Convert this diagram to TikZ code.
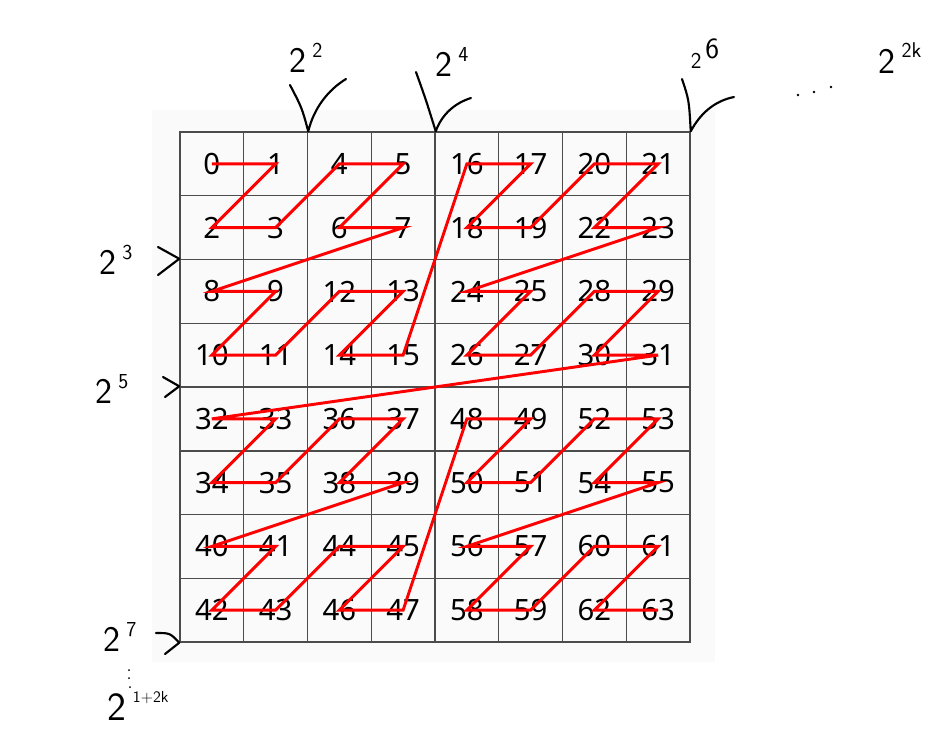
\documentclass[tikz,border=0pt]{standalone}
\usepackage{fontspec}
\setmainfont{Noto Sans}
\usetikzlibrary{positioning}

% base with a raised, smaller exponent (hand-written marks)
\newcommand{\hpow}[3][16]{#2\,\raisebox{1.0ex}{\fontsize{#1}{#1}\selectfont #3}}

\begin{document}
\begin{tikzpicture}[x=0.75pt, y=-0.75pt,
    cell/.style={draw=black!70, line width=1.1pt, minimum size=47.8pt,
      inner sep=0pt, font=\fontsize{22}{22}\selectfont},
    zline/.style={red, line width=2.2pt, line join=miter},
    hand/.style={line width=1.6pt, line cap=round, line join=round},
    handtxt/.style={font=\sffamily\fontsize{27}{27}\selectfont, inner sep=0pt}]
    \useasboundingbox (0,0) rectangle (943,751);
    % 1. Nền xám nhạt
    \fill[black!2] (152,110) rectangle (715,662);

    % 2. Các ô theo thứ tự Morton
    \foreach \n in {0,...,63}{
        \pgfmathtruncatemacro\col{mod(\n,2)+2*mod(int(\n/4),2)+4*mod(int(\n/16),2)}
        \pgfmathtruncatemacro\row{mod(int(\n/2),2)+2*mod(int(\n/8),2)+4*mod(int(\n/32),2)}
        \node[cell] (n\n) at ({211.875+63.75*\col},{163.875+63.75*\row}) {\n};
    }

    % 3. Đường chữ Z
    \draw[zline] (n0.center) \foreach \n in {1,...,63}{ -- (n\n.center)};

    % 4. Dấu viết tay phía trên
    \coordinate (t1) at (n1.north east);
    \coordinate (t2) at (n5.north east);
    \coordinate (t3) at (n21.north east);
    \draw[hand] (290,85) .. controls (302,108) .. (t1)
        .. controls (314,108) and (328,90) .. (346,79);
    \draw[hand] (416,72) .. controls (426,100) .. (t2)
        .. controls (442,114) and (455,103) .. (471,98);
    \draw[hand] (682,79) .. controls (689,100) .. (t3)
        .. controls (700,114) and (714,101) .. (734,97);
    \node[handtxt] (p2) at (306,58) {\hpow{2}{2}};
    \node[handtxt] (p4) at (452,62) {\hpow{2}{4}};
    \node[handtxt, font=\sffamily\fontsize{17}{17}\selectfont] (p6) at (705,54) {\hpow[22]{2}{6}};
    \fill (798,95) circle (1.3) (814,92) circle (1.3) (831,87) circle (1.3);
    \node[handtxt] (p2k) at (900,58) {\hpow{2}{2k}};

    % 5. Dấu viết tay bên trái
    \coordinate (l1) at (n8.north west);
    \coordinate (l2) at (n32.north west);
    \coordinate (l3) at (n42.south west);
    \draw[hand] (158,247) -- (l1) -- (158,275);
    \draw[hand] (163,377) -- (l2) -- (165,397);
    \draw[hand] (156,633) .. controls (170,633) .. (l3) -- (165,654);
    \node[handtxt] (p3) at (116,260) {\hpow{2}{3}};
    \node[handtxt] (p5) at (112,389) {\hpow{2}{5}};
    \node[handtxt] (p7) at (120,637) {\hpow{2}{7}};
    \fill (129,670) circle (1) (129,678) circle (1) (130,687) circle (1);
    \node[handtxt, font=\sffamily\fontsize{30}{30}\selectfont] (p1k) at (138,706) {\hpow[12]{2}{1+2k}};
\end{tikzpicture}
\end{document}
